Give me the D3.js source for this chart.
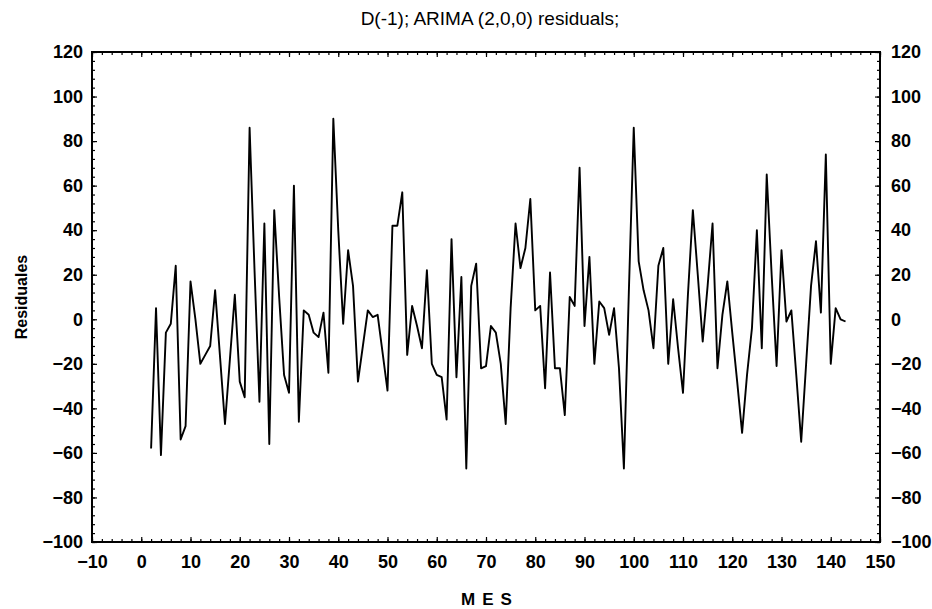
<!DOCTYPE html>
<meta charset="utf-8">
<style>
body { margin: 0; background: #fff; }
text { font-family: Arial, "Liberation Sans", sans-serif; fill: #000; }
.tick text { font-size: 18px; font-weight: bold; }
.axis path.domain { display: none; }
.axis line { stroke: #000; stroke-width: 1.2; }
.serie { fill: none; stroke: #000; stroke-width: 1.9; stroke-linejoin: round; }
</style>
<svg width="932" height="609"></svg>
<script src="https://d3js.org/d3.v7.min.js"></script>
<script>

// residuos por mes, desde el mes 2
var mesInicial = 2;
var residuos = [
  -58, 5, -61, -6, -2, 24, -54, -48, 17, 0,
  -20, -16, -12, 13, -17, -47, -18, 11, -28, -35,
  86, 22, -37, 43, -56, 49, 10, -25, -33, 60,
  -46, 4, 2, -6, -8, 3, -24, 90, 40, -2,
  31, 15, -28, -12, 4, 1, 2, -15, -32, 42,
  42, 57, -16, 6, -3, -13, 22, -20, -25, -26,
  -45, 36, -26, 19, -67, 15, 25, -22, -21, -3,
  -6, -20, -47, 5, 43, 23, 32, 54, 4, 6,
  -31, 21, -22, -22, -43, 10, 6, 68, -3, 28,
  -20, 8, 5, -7, 5, -22, -67, 12, 86, 26,
  13, 4, -13, 24, 32, -20, 9, -13, -33, 11,
  49, 20, -10, 15, 43, -22, 2, 17, -6, -28,
  -51, -25, -4, 40, -13, 65, 20, -21, 31, -1,
  4, -25, -55, -20, 15, 35, 3, 74, -20, 5,
  0, -1
];

var xTicks = [-10, 0, 10, 20, 30, 40, 50, 60, 70, 80, 90, 100, 110, 120, 130, 140, 150];
var yTicks = [-100, -80, -60, -40, -20, 0, 20, 40, 60, 80, 100, 120];

var titulo = "D(-1); ARIMA (2,0,0) residuals;";
var rotuloX = "MES";
var rotuloY = "Residuales";

var svg = d3.select("svg");
var margin = {top: 52, right: 52, bottom: 67, left: 92},
    width = 932 - margin.left - margin.right,
    height = 609 - margin.top - margin.bottom;

var x = d3.scaleLinear().domain([-10, 150]).range([0, width]);
var y = d3.scaleLinear().domain([-100, 120]).range([height, 0]);

var g = svg.append("g").attr("transform", "translate(" + margin.left + "," + margin.top + ")");

// ticks menores
g.append("g").attr("class", "axis")
    .attr("transform", "translate(0," + height + ")")
    .call(d3.axisBottom(x).tickValues(d3.range(-10, 151, 2)).tickSize(-3).tickFormat(""));
g.append("g").attr("class", "axis")
    .call(d3.axisTop(x).tickValues(d3.range(-10, 151, 2)).tickSize(-3).tickFormat(""));
g.append("g").attr("class", "axis")
    .call(d3.axisLeft(y).tickValues(d3.range(-100, 121, 4)).tickSize(-3).tickFormat(""));
g.append("g").attr("class", "axis")
    .attr("transform", "translate(" + width + ",0)")
    .call(d3.axisRight(y).tickValues(d3.range(-100, 121, 4)).tickSize(-3).tickFormat(""));

// ticks mayores con rotulos
g.append("g").attr("class", "axis")
    .attr("transform", "translate(0," + height + ")")
    .call(d3.axisBottom(x).tickValues(xTicks).tickSize(-5).tickPadding(13));
g.append("g").attr("class", "axis")
    .call(d3.axisTop(x).tickValues(xTicks).tickSize(-5).tickFormat(""));
g.append("g").attr("class", "axis")
    .call(d3.axisLeft(y).tickValues(yTicks).tickSize(-5).tickPadding(9));
g.append("g").attr("class", "axis")
    .attr("transform", "translate(" + width + ",0)")
    .call(d3.axisRight(y).tickValues(yTicks).tickSize(-5).tickPadding(11));

g.append("rect")
    .attr("width", width)
    .attr("height", height)
    .attr("fill", "none")
    .attr("stroke", "#000")
    .attr("stroke-width", 2);

var linea = d3.line()
    .x((d, i) => x(mesInicial + i))
    .y(d => y(d));

g.append("path")
    .datum(residuos)
    .attr("class", "serie")
    .attr("d", linea);

svg.append("text")
    .attr("x", margin.left + width / 2 + 4)
    .attr("y", 25)
    .attr("text-anchor", "middle")
    .style("font-size", "19px")
    .text(titulo);

svg.append("text")
    .attr("x", margin.left + width / 2 + 4)
    .attr("y", 605)
    .attr("text-anchor", "middle")
    .style("font-size", "17px")
    .style("font-weight", "bold")
    .style("letter-spacing", "7px")
    .text(rotuloX);

svg.append("text")
    .attr("transform", "translate(27," + (margin.top + y(10)) + ") rotate(-90)")
    .attr("text-anchor", "middle")
    .style("font-size", "16px")
    .style("font-weight", "bold")
    .text(rotuloY);

</script>
